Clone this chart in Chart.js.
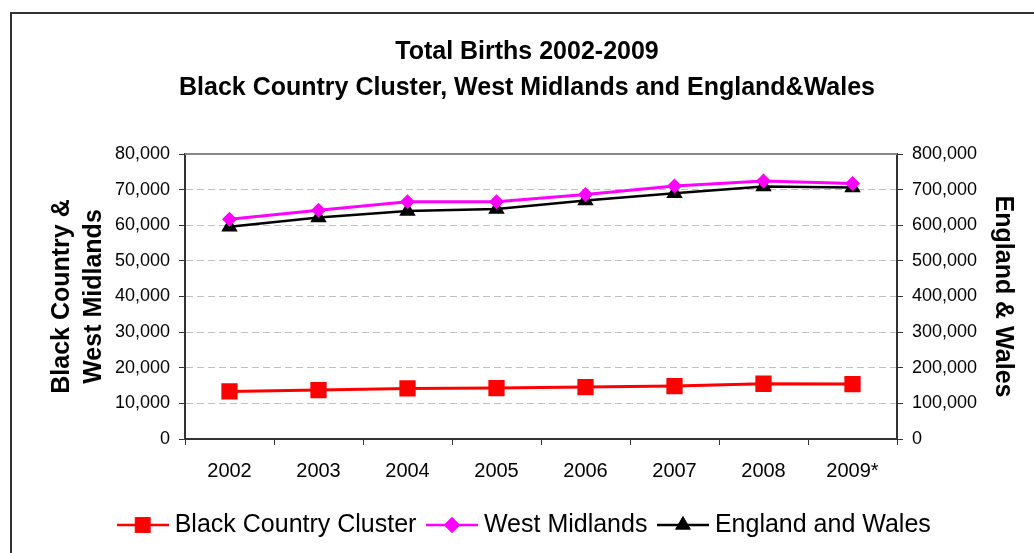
<!DOCTYPE html>
<html>
<head>
<meta charset="utf-8">
<script src="https://cdn.jsdelivr.net/npm/chart.js@4/dist/chart.umd.min.js"></script>
<style>
html, body { margin: 0; padding: 0; background: #fff; }
#wrap { position: relative; width: 1034px; height: 553px; overflow: hidden; }
#frame { position: absolute; left: 10px; top: 12px; width: 1100px; height: 600px; border-left: 2px solid #333; border-top: 2px solid #333; }
#chart { position: absolute; left: 0; top: 0; }
</style>
</head>
<body>
<div id="wrap">
  <div id="frame"></div>
  <canvas id="chart" width="1034" height="553"></canvas>
</div>
<script>
const years = ['2002', '2003', '2004', '2005', '2006', '2007', '2008', '2009*'];
const blackCountry = [13360, 13740, 14200, 14300, 14580, 14860, 15510, 15420];
const westMidlands = [61700, 64200, 66600, 66600, 68600, 71000, 72400, 71700];
const englandWales = [596100, 621500, 639700, 645800, 669600, 690000, 708700, 706200];

const leftTicks = { min: 0, max: 80000, step: 10000 };
const rightTicks = { min: 0, max: 800000, step: 100000 };

Chart.defaults.font.family = '"Liberation Sans", Arial, sans-serif';
Chart.defaults.color = '#000';

// small line + marker images for the legend
function legendIcon(color, style, radius) {
    const c = document.createElement('canvas');
    c.width = 52;
    c.height = 22;
    const g = c.getContext('2d');
    g.strokeStyle = color;
    g.lineWidth = 2.5;
    g.beginPath();
    g.moveTo(0, 11);
    g.lineTo(52, 11);
    g.stroke();
    g.fillStyle = color;
    Chart.helpers.drawPoint(g, { pointStyle: style, radius: radius, borderWidth: 0 }, 26, 11);
    g.fill();
    return c;
}

const icons = [
    legendIcon('#ff0000', 'rect', 11),
    legendIcon('#ff00ff', 'rectRot', 8),
    legendIcon('#000000', 'triangle', 9)
];

const plotFrame = {
    id: 'plotFrame',
    beforeDatasetsDraw(chart) {
        const { ctx, chartArea: a } = chart;
        ctx.save();
        ctx.strokeStyle = '#888';
        ctx.lineWidth = 2;
        ctx.beginPath();
        ctx.moveTo(a.left, a.top);
        ctx.lineTo(a.right, a.top);
        ctx.stroke();
        ctx.restore();
    }
};

const fmt = v => v.toLocaleString('en-US');

new Chart(document.getElementById('chart'), {
    type: 'line',
    data: {
        labels: years,
        datasets: [{
            label: 'Black Country Cluster',
            data: blackCountry,
            yAxisID: 'y',
            borderColor: '#ff0000',
            backgroundColor: '#ff0000',
            borderWidth: 3,
            pointStyle: 'rect',
            pointRadius: 11.5,
            pointBorderWidth: 0
        }, {
            label: 'West Midlands',
            data: westMidlands,
            yAxisID: 'y',
            borderColor: '#ff00ff',
            backgroundColor: '#ff00ff',
            borderWidth: 3,
            pointStyle: 'rectRot',
            pointRadius: 7.5,
            pointBorderWidth: 0
        }, {
            label: 'England and Wales',
            data: englandWales,
            yAxisID: 'y1',
            borderColor: '#000000',
            backgroundColor: '#000000',
            borderWidth: 2.5,
            pointStyle: 'triangle',
            pointRadius: 9.5,
            pointBorderWidth: 0
        }]
    },
    options: {
        responsive: false,
        animation: false,
        layout: { padding: { left: 20, right: 0, top: 0, bottom: 5.5 } },
        scales: {
            x: {
                offset: true,
                grid: { offset: true, drawOnChartArea: false, tickLength: 6, tickColor: '#333', lineWidth: 1 },
                border: { color: '#333', width: 2 },
                ticks: { font: { size: 20 }, padding: 14, color: '#000' },
                afterFit: s => { s.height = 57.5; }
            },
            y: {
                position: 'left',
                min: leftTicks.min,
                max: leftTicks.max,
                ticks: { stepSize: leftTicks.step, callback: fmt, font: { size: 18 }, padding: 9, color: '#000' },
                grid: { color: '#c0c0c0', tickColor: '#333', tickLength: 6 },
                border: { color: '#333', width: 2, dash: [7, 4] },
                title: {
                    display: true,
                    text: ['Black Country &', 'West Midlands'],
                    font: { size: 25, weight: 'bold', lineHeight: 1.28 },
                    color: '#000',
                    padding: { top: 26, bottom: 0 }
                },
                afterFit: s => { s.width = 165; }
            },
            y1: {
                position: 'right',
                min: rightTicks.min,
                max: rightTicks.max,
                ticks: { stepSize: rightTicks.step, callback: fmt, font: { size: 18 }, padding: 9, color: '#000' },
                grid: { drawOnChartArea: false, tickColor: '#333', tickLength: 6 },
                border: { color: '#333', width: 2 },
                title: {
                    display: true,
                    text: 'England & Wales',
                    font: { size: 25, weight: 'bold' },
                    color: '#000',
                    padding: { top: 16, bottom: 0 }
                },
                afterFit: s => { s.width = 137; }
            }
        },
        plugins: {
            title: {
                display: true,
                text: ['Total Births 2002-2009', 'Black Country Cluster, West Midlands and England&Wales'],
                font: { size: 25, weight: 'bold', lineHeight: 1.46 },
                color: '#000',
                padding: { top: 33.5, bottom: 47.5 }
            },
            legend: {
                position: 'bottom',
                labels: {
                    usePointStyle: true,
                    pointStyleWidth: 39,
                    padding: 16,
                    font: { size: 25 },
                    color: '#000',
                    generateLabels: chart => chart.data.datasets.map((ds, i) => ({
                        text: ds.label,
                        pointStyle: icons[i],
                        fillStyle: ds.borderColor,
                        strokeStyle: ds.borderColor,
                        lineWidth: 0,
                        hidden: false,
                        datasetIndex: i
                    }))
                }
            },
            tooltip: { enabled: false }
        }
    },
    plugins: [plotFrame]
});
</script>
</body>
</html>
